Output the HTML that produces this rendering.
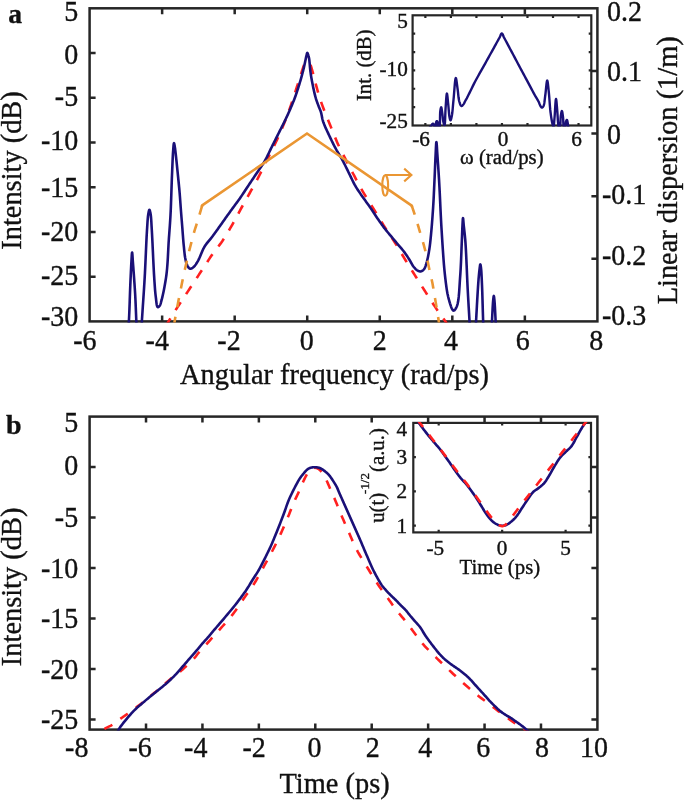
<!DOCTYPE html>
<html><head><meta charset="utf-8"><style>
html,body{margin:0;padding:0;background:#fff;}
svg{display:block;will-change:transform;}
text{font-family:"Liberation Serif",serif;}
</style></head><body>
<svg width="685" height="800" viewBox="0 0 685 800">
<rect width="685" height="800" fill="#fff"/>
<clipPath id="ca"><rect x="88.60" y="7.30" width="509.80" height="315.10"/></clipPath>
<clipPath id="cb"><rect x="88.60" y="415.60" width="509.80" height="315.00"/></clipPath>
<clipPath id="cia"><rect x="411.60" y="14.30" width="180.70" height="112.20"/></clipPath>
<clipPath id="cib"><rect x="412.30" y="421.90" width="179.70" height="111.50"/></clipPath>
<g fill="none" stroke="#262626" stroke-width="2.50">
<rect x="89.60" y="8.30" width="507.80" height="313.10"/>
<path d="M162.14 321.40 V315.40 M162.14 8.30 V14.30 M234.69 321.40 V315.40 M234.69 8.30 V14.30 M307.23 321.40 V315.40 M307.23 8.30 V14.30 M379.77 321.40 V315.40 M379.77 8.30 V14.30 M452.31 321.40 V315.40 M452.31 8.30 V14.30 M524.86 321.40 V315.40 M524.86 8.30 V14.30 M89.60 53.03 H95.60 M89.60 97.76 H95.60 M89.60 142.49 H95.60 M89.60 187.21 H95.60 M89.60 231.94 H95.60 M89.60 276.67 H95.60 M597.40 70.92 H591.40 M597.40 133.54 H591.40 M597.40 196.16 H591.40 M597.40 258.78 H591.40 "/>
</g>
<g clip-path="url(#ca)" fill="none" stroke-width="2.60">
<path d="M165.00 327.50 L165.07 327.38 L165.27 327.03 L165.57 326.51 L165.95 325.85 L166.39 325.10 L166.85 324.29 L167.33 323.48 L167.80 322.70 L168.63 321.33 L169.57 319.78 L170.60 318.10 L171.70 316.33 L172.83 314.50 L174.00 312.64 L175.16 310.79 L176.30 309.00 L177.52 307.10 L178.77 305.18 L180.05 303.24 L181.34 301.29 L182.64 299.33 L183.93 297.38 L185.22 295.43 L186.50 293.50 L187.75 291.60 L189.01 289.70 L190.27 287.79 L191.52 285.89 L192.76 284.00 L194.00 282.13 L195.21 280.30 L196.40 278.50 L197.45 276.91 L198.48 275.36 L199.50 273.83 L200.50 272.32 L201.50 270.82 L202.50 269.32 L203.49 267.82 L204.50 266.30 L205.51 264.77 L206.50 263.23 L207.49 261.70 L208.48 260.16 L209.48 258.62 L210.49 257.08 L211.53 255.54 L212.60 254.00 L213.77 252.39 L214.97 250.80 L216.21 249.22 L217.46 247.63 L218.72 246.02 L219.97 244.39 L221.20 242.72 L222.40 241.00 L223.67 239.09 L224.92 237.13 L226.15 235.13 L227.38 233.10 L228.59 231.05 L229.80 228.97 L231.00 226.89 L232.20 224.80 L233.44 222.61 L234.68 220.37 L235.92 218.09 L237.15 215.81 L238.36 213.54 L239.56 211.30 L240.74 209.11 L241.90 207.00 L242.89 205.22 L243.85 203.50 L244.80 201.82 L245.74 200.16 L246.68 198.52 L247.61 196.87 L248.55 195.20 L249.50 193.50 L250.49 191.72 L251.49 189.95 L252.49 188.17 L253.49 186.38 L254.49 184.57 L255.50 182.75 L256.50 180.89 L257.50 179.00 L258.59 176.90 L259.67 174.75 L260.76 172.57 L261.84 170.36 L262.93 168.14 L264.02 165.92 L265.11 163.70 L266.20 161.50 L267.30 159.31 L268.42 157.10 L269.55 154.90 L270.68 152.69 L271.79 150.50 L272.89 148.31 L273.96 146.14 L275.00 144.00 L275.93 142.03 L276.84 140.10 L277.73 138.19 L278.60 136.28 L279.45 134.37 L280.30 132.44 L281.15 130.49 L282.00 128.50 L282.90 126.35 L283.79 124.19 L284.68 122.00 L285.56 119.79 L286.43 117.56 L287.29 115.30 L288.15 113.01 L289.00 110.70 L289.91 108.16 L290.80 105.56 L291.69 102.91 L292.57 100.25 L293.45 97.57 L294.31 94.91 L295.16 92.28 L296.00 89.70 L296.79 87.27 L297.58 84.80 L298.37 82.33 L299.15 79.89 L299.91 77.50 L300.64 75.21 L301.34 73.03 L302.00 71.00 L302.45 69.64 L302.88 68.35 L303.29 67.11 L303.70 65.91 L304.09 64.76 L304.47 63.65 L304.84 62.56 L305.20 61.50 L305.51 60.60 L305.85 59.62 L306.20 58.62 L306.54 57.66 L306.84 56.81 L307.08 56.12 L307.24 55.67 L307.30 55.50" stroke="#ff2020" stroke-dasharray="9.5 9.69" stroke-dashoffset="18.08"/>
<path d="M307.30 55.50 L307.37 55.70 L307.58 56.25 L307.88 57.07 L308.24 58.08 L308.65 59.21 L309.07 60.37 L309.46 61.49 L309.80 62.50 L310.13 63.51 L310.46 64.53 L310.78 65.56 L311.11 66.60 L311.43 67.66 L311.75 68.75 L312.07 69.86 L312.40 71.00 L312.78 72.40 L313.17 73.85 L313.55 75.33 L313.93 76.85 L314.31 78.39 L314.70 79.94 L315.10 81.48 L315.50 83.00 L315.92 84.55 L316.34 86.12 L316.76 87.69 L317.19 89.26 L317.63 90.83 L318.07 92.40 L318.53 93.95 L319.00 95.50 L319.47 97.00 L319.95 98.48 L320.43 99.93 L320.92 101.39 L321.43 102.86 L321.96 104.36 L322.51 105.90 L323.10 107.50 L323.87 109.53 L324.68 111.64 L325.54 113.80 L326.43 116.00 L327.34 118.24 L328.26 120.50 L329.19 122.75 L330.10 125.00 L331.06 127.38 L332.03 129.82 L333.01 132.28 L334.00 134.75 L335.00 137.20 L336.00 139.61 L337.00 141.95 L338.00 144.20 L338.86 146.06 L339.72 147.86 L340.58 149.60 L341.45 151.31 L342.31 153.00 L343.19 154.70 L344.09 156.43 L345.00 158.20 L346.00 160.13 L347.01 162.09 L348.05 164.06 L349.09 166.05 L350.14 168.04 L351.20 170.04 L352.25 172.02 L353.30 174.00 L354.33 175.95 L355.34 177.89 L356.34 179.82 L357.35 181.74 L358.38 183.69 L359.43 185.65 L360.54 187.65 L361.70 189.70 L363.15 192.16 L364.68 194.70 L366.29 197.29 L367.94 199.92 L369.60 202.55 L371.24 205.15 L372.85 207.71 L374.40 210.20 L375.75 212.40 L377.07 214.58 L378.37 216.72 L379.65 218.85 L380.93 220.95 L382.21 223.04 L383.49 225.12 L384.80 227.20 L386.09 229.21 L387.39 231.18 L388.70 233.15 L390.01 235.10 L391.32 237.05 L392.62 239.01 L393.92 240.99 L395.20 243.00 L396.49 245.09 L397.77 247.19 L399.04 249.32 L400.31 251.45 L401.57 253.59 L402.84 255.74 L404.11 257.87 L405.40 260.00 L406.71 262.13 L408.02 264.26 L409.34 266.38 L410.67 268.51 L412.00 270.63 L413.33 272.76 L414.66 274.88 L416.00 277.00 L417.34 279.13 L418.69 281.27 L420.04 283.40 L421.40 285.54 L422.75 287.67 L424.10 289.79 L425.45 291.90 L426.80 294.00 L428.11 296.04 L429.42 298.09 L430.72 300.13 L432.03 302.16 L433.33 304.17 L434.63 306.16 L435.92 308.10 L437.20 310.00 L438.39 311.71 L439.63 313.45 L440.88 315.17 L442.12 316.87 L443.31 318.49 L444.42 320.03 L445.43 321.44 L446.30 322.70 L446.76 323.40 L447.23 324.13 L447.68 324.85 L448.10 325.52 L448.46 326.11 L448.75 326.58 L448.93 326.89 L449.00 327.00" stroke="#ff2020" stroke-dasharray="9.5 9.69" stroke-dashoffset="9.18"/>
<path d="M127.50 336.00 L127.53 335.77 L127.60 335.14 L127.71 334.15 L127.85 332.87 L128.01 331.36 L128.18 329.68 L128.35 327.90 L128.52 326.07 L128.67 324.25 L128.80 322.50 L128.98 319.47 L129.15 316.06 L129.31 312.34 L129.46 308.41 L129.61 304.35 L129.75 300.24 L129.88 296.17 L130.02 292.22 L130.16 288.46 L130.30 285.00 L130.41 282.43 L130.52 279.88 L130.64 277.37 L130.75 274.92 L130.86 272.52 L130.96 270.21 L131.07 267.99 L131.18 265.87 L131.29 263.87 L131.40 262.00 L131.47 260.80 L131.54 259.53 L131.61 258.25 L131.68 256.99 L131.74 255.80 L131.81 254.73 L131.88 253.82 L131.95 253.12 L132.03 252.66 L132.10 252.50 L132.17 252.65 L132.25 253.09 L132.32 253.77 L132.40 254.66 L132.47 255.70 L132.55 256.87 L132.63 258.13 L132.72 259.43 L132.81 260.73 L132.90 262.00 L133.09 264.51 L133.31 267.37 L133.54 270.53 L133.79 273.91 L134.05 277.44 L134.30 281.06 L134.55 284.69 L134.79 288.27 L135.01 291.73 L135.20 295.00 L135.35 297.89 L135.49 300.78 L135.62 303.68 L135.74 306.55 L135.85 309.40 L135.96 312.18 L136.07 314.90 L136.17 317.54 L136.28 320.08 L136.40 322.50 L136.48 324.25 L136.55 325.97 L136.61 327.64 L136.67 329.27 L136.74 330.85 L136.81 332.39 L136.90 333.87 L137.00 335.30 L137.14 336.68 L137.30 338.00 L137.44 338.98 L137.60 340.03 L137.77 341.11 L137.95 342.16 L138.13 343.17 L138.33 344.08 L138.52 344.86 L138.72 345.47 L138.91 345.86 L139.10 346.00 L139.29 345.86 L139.49 345.47 L139.70 344.86 L139.91 344.09 L140.11 343.17 L140.32 342.17 L140.51 341.11 L140.69 340.03 L140.85 338.98 L141.00 338.00 L141.16 336.70 L141.28 335.36 L141.37 333.99 L141.44 332.56 L141.49 331.08 L141.53 329.53 L141.58 327.91 L141.63 326.20 L141.70 324.40 L141.80 322.50 L142.01 318.95 L142.27 315.00 L142.55 310.73 L142.85 306.21 L143.17 301.49 L143.49 296.65 L143.82 291.75 L144.13 286.87 L144.43 282.06 L144.70 277.40 L144.96 272.60 L145.20 267.59 L145.44 262.48 L145.67 257.32 L145.90 252.20 L146.12 247.21 L146.34 242.41 L146.56 237.89 L146.78 233.73 L147.00 230.00 L147.13 228.01 L147.24 226.09 L147.36 224.25 L147.47 222.49 L147.58 220.82 L147.70 219.24 L147.83 217.77 L147.97 216.40 L148.13 215.14 L148.30 214.00 L148.40 213.43 L148.50 212.85 L148.61 212.27 L148.71 211.71 L148.83 211.20 L148.94 210.74 L149.05 210.36 L149.17 210.06 L149.28 209.87 L149.40 209.80 L149.52 209.87 L149.64 210.06 L149.77 210.35 L149.89 210.74 L150.02 211.20 L150.14 211.71 L150.27 212.27 L150.38 212.84 L150.50 213.43 L150.60 214.00 L150.78 215.14 L150.93 216.40 L151.06 217.76 L151.18 219.24 L151.28 220.82 L151.38 222.49 L151.47 224.25 L151.57 226.09 L151.68 228.01 L151.80 230.00 L152.02 233.81 L152.25 238.20 L152.49 243.02 L152.72 248.14 L152.97 253.42 L153.21 258.72 L153.46 263.90 L153.71 268.84 L153.95 273.38 L154.20 277.40 L154.35 279.74 L154.50 281.97 L154.64 284.11 L154.78 286.17 L154.92 288.14 L155.07 290.04 L155.23 291.87 L155.40 293.63 L155.59 295.34 L155.80 297.00 L155.95 298.23 L156.09 299.51 L156.23 300.82 L156.38 302.11 L156.53 303.34 L156.70 304.47 L156.90 305.44 L157.13 306.24 L157.39 306.80 L157.70 307.10 L157.86 307.14 L158.03 307.13 L158.21 307.08 L158.40 306.99 L158.59 306.87 L158.79 306.72 L158.98 306.56 L159.16 306.38 L159.34 306.19 L159.50 306.00 L159.73 305.69 L159.93 305.35 L160.12 304.96 L160.30 304.55 L160.46 304.09 L160.62 303.59 L160.78 303.06 L160.94 302.48 L161.11 301.86 L161.30 301.20 L161.77 299.46 L162.28 297.38 L162.82 295.03 L163.38 292.44 L163.94 289.68 L164.50 286.79 L165.03 283.82 L165.54 280.84 L166.00 277.88 L166.40 275.00 L166.79 271.69 L167.12 268.25 L167.40 264.70 L167.65 261.10 L167.86 257.46 L168.05 253.83 L168.23 250.24 L168.41 246.71 L168.59 243.29 L168.80 240.00 L168.98 237.36 L169.17 234.83 L169.35 232.38 L169.52 229.98 L169.70 227.60 L169.87 225.22 L170.03 222.80 L170.19 220.31 L170.35 217.72 L170.50 215.00 L170.68 211.34 L170.85 207.45 L171.00 203.39 L171.15 199.23 L171.29 195.00 L171.43 190.78 L171.57 186.61 L171.71 182.55 L171.85 178.66 L172.00 175.00 L172.12 172.19 L172.23 169.37 L172.35 166.57 L172.46 163.82 L172.57 161.15 L172.69 158.58 L172.81 156.16 L172.93 153.90 L173.06 151.84 L173.20 150.00 L173.27 149.08 L173.35 148.15 L173.42 147.22 L173.49 146.32 L173.57 145.49 L173.65 144.74 L173.73 144.11 L173.82 143.63 L173.90 143.31 L174.00 143.20 L174.08 143.27 L174.17 143.48 L174.26 143.80 L174.35 144.21 L174.44 144.69 L174.54 145.23 L174.63 145.80 L174.72 146.38 L174.81 146.96 L174.90 147.50 L175.03 148.32 L175.15 149.19 L175.27 150.10 L175.39 151.06 L175.50 152.06 L175.62 153.10 L175.74 154.16 L175.85 155.25 L175.98 156.37 L176.10 157.50 L176.27 159.05 L176.45 160.69 L176.63 162.39 L176.81 164.15 L176.99 165.94 L177.18 167.77 L177.36 169.60 L177.54 171.42 L177.72 173.23 L177.90 175.00 L178.08 176.75 L178.25 178.50 L178.43 180.25 L178.61 182.00 L178.78 183.75 L178.95 185.50 L179.12 187.25 L179.29 189.00 L179.45 190.75 L179.60 192.50 L179.75 194.25 L179.88 196.00 L180.02 197.75 L180.14 199.50 L180.27 201.25 L180.39 203.00 L180.52 204.75 L180.64 206.50 L180.77 208.25 L180.90 210.00 L181.04 211.75 L181.17 213.50 L181.31 215.25 L181.45 217.00 L181.59 218.75 L181.74 220.50 L181.88 222.25 L182.02 224.00 L182.16 225.75 L182.30 227.50 L182.44 229.26 L182.57 231.03 L182.70 232.81 L182.83 234.60 L182.97 236.37 L183.10 238.14 L183.24 239.90 L183.39 241.63 L183.54 243.33 L183.70 245.00 L183.85 246.49 L183.99 247.98 L184.13 249.47 L184.28 250.95 L184.44 252.41 L184.60 253.83 L184.77 255.22 L184.96 256.54 L185.17 257.81 L185.40 259.00 L185.57 259.82 L185.74 260.63 L185.92 261.41 L186.10 262.17 L186.29 262.90 L186.50 263.59 L186.72 264.26 L186.95 264.88 L187.21 265.46 L187.50 266.00 L187.72 266.37 L187.95 266.73 L188.19 267.09 L188.43 267.43 L188.69 267.74 L188.96 268.02 L189.23 268.27 L189.51 268.47 L189.80 268.61 L190.10 268.70 L190.42 268.72 L190.75 268.68 L191.10 268.59 L191.45 268.45 L191.81 268.27 L192.18 268.06 L192.54 267.82 L192.91 267.56 L193.26 267.28 L193.60 267.00 L194.06 266.57 L194.51 266.09 L194.96 265.56 L195.40 264.99 L195.83 264.37 L196.26 263.71 L196.69 263.02 L197.12 262.30 L197.56 261.56 L198.00 260.80 L198.63 259.63 L199.25 258.33 L199.86 256.93 L200.47 255.47 L201.09 253.96 L201.72 252.43 L202.37 250.91 L203.05 249.44 L203.75 248.02 L204.50 246.70 L205.23 245.55 L205.99 244.45 L206.79 243.39 L207.60 242.35 L208.43 241.33 L209.27 240.32 L210.12 239.32 L210.96 238.30 L211.79 237.26 L212.60 236.20 L213.43 235.08 L214.25 233.96 L215.07 232.83 L215.89 231.68 L216.71 230.54 L217.53 229.39 L218.35 228.24 L219.17 227.09 L219.98 225.94 L220.80 224.80 L221.62 223.65 L222.44 222.50 L223.26 221.34 L224.09 220.17 L224.91 219.01 L225.72 217.86 L226.53 216.71 L227.33 215.59 L228.12 214.48 L228.90 213.40 L229.58 212.46 L230.26 211.52 L230.93 210.60 L231.60 209.68 L232.26 208.78 L232.91 207.89 L233.55 207.02 L234.18 206.16 L234.80 205.32 L235.40 204.50 L235.89 203.84 L236.35 203.21 L236.80 202.61 L237.24 202.02 L237.67 201.43 L238.11 200.84 L238.55 200.23 L239.01 199.60 L239.49 198.92 L240.00 198.20 L240.77 197.09 L241.58 195.89 L242.42 194.63 L243.29 193.31 L244.19 191.95 L245.09 190.57 L246.00 189.18 L246.91 187.80 L247.82 186.43 L248.70 185.10 L249.58 183.78 L250.47 182.46 L251.37 181.12 L252.26 179.79 L253.16 178.46 L254.05 177.14 L254.93 175.82 L255.80 174.53 L256.66 173.25 L257.50 172.00 L258.24 170.91 L258.96 169.86 L259.68 168.83 L260.39 167.81 L261.09 166.80 L261.79 165.79 L262.48 164.76 L263.16 163.71 L263.83 162.62 L264.50 161.50 L265.23 160.20 L265.95 158.86 L266.66 157.48 L267.36 156.07 L268.05 154.65 L268.74 153.22 L269.43 151.78 L270.11 150.34 L270.80 148.91 L271.50 147.50 L272.20 146.10 L272.90 144.70 L273.60 143.30 L274.30 141.90 L275.00 140.50 L275.70 139.10 L276.40 137.70 L277.10 136.30 L277.80 134.90 L278.50 133.50 L279.21 132.09 L279.92 130.68 L280.64 129.26 L281.36 127.84 L282.08 126.42 L282.79 125.01 L283.49 123.61 L284.18 122.22 L284.85 120.85 L285.50 119.50 L286.06 118.31 L286.61 117.14 L287.15 115.99 L287.68 114.84 L288.19 113.71 L288.70 112.58 L289.21 111.44 L289.71 110.31 L290.20 109.16 L290.70 108.00 L291.20 106.82 L291.70 105.64 L292.19 104.46 L292.68 103.28 L293.16 102.09 L293.64 100.90 L294.12 99.69 L294.58 98.48 L295.04 97.25 L295.50 96.00 L295.98 94.65 L296.46 93.26 L296.93 91.86 L297.39 90.44 L297.85 89.02 L298.30 87.59 L298.74 86.17 L299.17 84.76 L299.59 83.37 L300.00 82.00 L300.37 80.76 L300.73 79.52 L301.08 78.29 L301.43 77.06 L301.77 75.84 L302.09 74.64 L302.41 73.45 L302.72 72.28 L303.02 71.13 L303.30 70.00 L303.53 69.04 L303.76 68.09 L303.97 67.15 L304.18 66.22 L304.38 65.31 L304.57 64.41 L304.76 63.53 L304.94 62.66 L305.12 61.82 L305.30 61.00 L305.44 60.34 L305.58 59.67 L305.72 59.01 L305.85 58.36 L305.98 57.73 L306.11 57.12 L306.23 56.53 L306.36 55.98 L306.48 55.47 L306.60 55.00 L306.67 54.73 L306.74 54.44 L306.81 54.16 L306.88 53.88 L306.94 53.62 L307.01 53.39 L307.08 53.19 L307.15 53.04 L307.22 52.94 L307.30 52.90 L307.38 52.93 L307.47 53.04 L307.56 53.20 L307.65 53.40 L307.75 53.65 L307.84 53.91 L307.94 54.19 L308.03 54.47 L308.12 54.75 L308.20 55.00 L308.30 55.30 L308.40 55.60 L308.49 55.91 L308.59 56.22 L308.68 56.55 L308.76 56.89 L308.85 57.25 L308.93 57.64 L309.02 58.05 L309.10 58.50 L309.25 59.46 L309.38 60.56 L309.51 61.79 L309.63 63.10 L309.75 64.48 L309.86 65.89 L309.98 67.30 L310.11 68.69 L310.25 70.04 L310.40 71.30 L310.55 72.38 L310.69 73.44 L310.84 74.47 L311.00 75.48 L311.15 76.49 L311.32 77.51 L311.50 78.53 L311.69 79.59 L311.89 80.67 L312.10 81.80 L312.39 83.27 L312.70 84.83 L313.03 86.46 L313.37 88.12 L313.73 89.80 L314.10 91.47 L314.48 93.10 L314.86 94.66 L315.23 96.14 L315.60 97.50 L315.86 98.41 L316.13 99.28 L316.40 100.10 L316.66 100.90 L316.93 101.68 L317.20 102.43 L317.48 103.18 L317.75 103.91 L318.02 104.65 L318.30 105.40 L318.56 106.08 L318.82 106.74 L319.09 107.38 L319.36 108.02 L319.63 108.65 L319.90 109.29 L320.17 109.94 L320.42 110.60 L320.67 111.29 L320.90 112.00 L321.15 112.87 L321.36 113.75 L321.55 114.66 L321.73 115.59 L321.91 116.54 L322.09 117.50 L322.29 118.48 L322.52 119.47 L322.79 120.48 L323.10 121.50 L323.56 122.81 L324.07 124.15 L324.63 125.53 L325.23 126.94 L325.87 128.36 L326.52 129.80 L327.19 131.24 L327.87 132.67 L328.54 134.10 L329.20 135.50 L329.87 136.92 L330.55 138.35 L331.24 139.78 L331.94 141.22 L332.65 142.65 L333.36 144.07 L334.07 145.47 L334.79 146.85 L335.50 148.19 L336.20 149.50 L336.82 150.62 L337.45 151.70 L338.07 152.75 L338.70 153.78 L339.33 154.80 L339.95 155.81 L340.57 156.83 L341.19 157.86 L341.80 158.92 L342.40 160.00 L343.03 161.17 L343.64 162.35 L344.25 163.55 L344.85 164.76 L345.45 165.98 L346.05 167.21 L346.65 168.44 L347.26 169.69 L347.88 170.94 L348.50 172.20 L349.18 173.57 L349.86 174.98 L350.54 176.41 L351.23 177.85 L351.92 179.29 L352.62 180.73 L353.32 182.15 L354.04 183.54 L354.76 184.89 L355.50 186.20 L356.17 187.33 L356.85 188.43 L357.54 189.50 L358.23 190.55 L358.93 191.58 L359.64 192.60 L360.35 193.62 L361.06 194.64 L361.78 195.66 L362.50 196.70 L363.23 197.75 L363.97 198.79 L364.72 199.83 L365.46 200.87 L366.22 201.90 L366.97 202.94 L367.73 203.99 L368.49 205.05 L369.24 206.12 L370.00 207.20 L370.81 208.38 L371.62 209.59 L372.44 210.81 L373.26 212.05 L374.08 213.30 L374.90 214.54 L375.71 215.77 L376.52 216.98 L377.32 218.16 L378.10 219.30 L378.78 220.28 L379.45 221.24 L380.11 222.19 L380.76 223.12 L381.42 224.04 L382.07 224.95 L382.72 225.85 L383.37 226.74 L384.03 227.62 L384.70 228.50 L385.34 229.32 L385.98 230.13 L386.63 230.93 L387.28 231.72 L387.93 232.50 L388.58 233.28 L389.24 234.06 L389.89 234.83 L390.55 235.61 L391.20 236.40 L391.86 237.19 L392.52 237.98 L393.18 238.77 L393.84 239.56 L394.50 240.35 L395.16 241.14 L395.82 241.93 L396.48 242.72 L397.14 243.51 L397.80 244.30 L398.46 245.08 L399.12 245.86 L399.79 246.63 L400.45 247.41 L401.12 248.18 L401.78 248.96 L402.43 249.73 L403.07 250.52 L403.69 251.31 L404.30 252.10 L404.87 252.88 L405.44 253.67 L405.99 254.46 L406.54 255.26 L407.07 256.06 L407.60 256.87 L408.11 257.66 L408.62 258.45 L409.12 259.23 L409.60 260.00 L410.02 260.69 L410.42 261.38 L410.80 262.08 L411.18 262.78 L411.55 263.47 L411.92 264.14 L412.29 264.80 L412.68 265.43 L413.08 266.03 L413.50 266.60 L413.87 267.07 L414.26 267.53 L414.65 267.98 L415.05 268.42 L415.45 268.84 L415.86 269.24 L416.27 269.61 L416.68 269.94 L417.09 270.24 L417.50 270.50 L417.82 270.68 L418.14 270.84 L418.46 270.99 L418.78 271.13 L419.10 271.24 L419.43 271.33 L419.75 271.39 L420.07 271.43 L420.39 271.43 L420.70 271.40 L421.04 271.33 L421.39 271.21 L421.74 271.06 L422.09 270.87 L422.44 270.65 L422.77 270.41 L423.10 270.14 L423.42 269.84 L423.72 269.53 L424.00 269.20 L424.35 268.72 L424.66 268.19 L424.95 267.61 L425.22 266.98 L425.46 266.32 L425.70 265.62 L425.92 264.89 L426.15 264.15 L426.37 263.38 L426.60 262.60 L426.92 261.49 L427.22 260.31 L427.51 259.07 L427.80 257.78 L428.07 256.46 L428.34 255.09 L428.59 253.71 L428.84 252.31 L429.07 250.90 L429.30 249.50 L429.54 247.91 L429.76 246.31 L429.97 244.69 L430.16 243.05 L430.34 241.38 L430.52 239.68 L430.69 237.95 L430.86 236.18 L431.03 234.36 L431.20 232.50 L431.42 230.10 L431.64 227.61 L431.85 225.03 L432.06 222.39 L432.27 219.71 L432.47 216.99 L432.66 214.27 L432.85 211.55 L433.03 208.85 L433.20 206.20 L433.36 203.58 L433.51 200.95 L433.65 198.32 L433.78 195.69 L433.90 193.06 L434.03 190.43 L434.14 187.81 L434.26 185.20 L434.38 182.60 L434.50 180.00 L434.62 177.44 L434.73 174.83 L434.84 172.20 L434.95 169.56 L435.06 166.95 L435.17 164.38 L435.27 161.88 L435.38 159.47 L435.49 157.17 L435.60 155.00 L435.68 153.42 L435.76 151.74 L435.83 150.01 L435.91 148.30 L435.99 146.67 L436.07 145.20 L436.15 143.94 L436.23 142.96 L436.31 142.33 L436.40 142.10 L436.49 142.32 L436.58 142.95 L436.68 143.92 L436.78 145.17 L436.88 146.63 L436.98 148.25 L437.08 149.96 L437.18 151.70 L437.29 153.40 L437.40 155.00 L437.56 157.30 L437.73 159.72 L437.91 162.26 L438.09 164.90 L438.27 167.64 L438.46 170.47 L438.65 173.38 L438.83 176.36 L439.02 179.40 L439.20 182.50 L439.43 186.73 L439.66 191.17 L439.88 195.80 L440.10 200.57 L440.32 205.45 L440.55 210.39 L440.79 215.35 L441.04 220.30 L441.31 225.20 L441.60 230.00 L441.90 234.83 L442.21 239.79 L442.53 244.82 L442.86 249.87 L443.21 254.88 L443.57 259.79 L443.94 264.56 L444.34 269.12 L444.76 273.42 L445.20 277.40 L445.50 279.92 L445.79 282.34 L446.09 284.66 L446.39 286.90 L446.70 289.06 L447.03 291.14 L447.39 293.15 L447.79 295.09 L448.22 296.97 L448.70 298.80 L449.10 300.24 L449.54 301.77 L449.99 303.34 L450.47 304.88 L450.96 306.34 L451.46 307.68 L451.97 308.83 L452.48 309.73 L452.99 310.34 L453.50 310.60 L453.85 310.57 L454.21 310.40 L454.58 310.11 L454.95 309.70 L455.32 309.21 L455.68 308.64 L456.04 308.01 L456.38 307.33 L456.70 306.62 L457.00 305.90 L457.58 304.07 L458.05 301.85 L458.45 299.28 L458.77 296.45 L459.04 293.41 L459.27 290.23 L459.48 286.97 L459.68 283.71 L459.88 280.49 L460.10 277.40 L460.35 273.94 L460.57 270.33 L460.77 266.60 L460.95 262.82 L461.12 259.03 L461.27 255.28 L461.41 251.64 L461.54 248.14 L461.67 244.84 L461.80 241.80 L461.88 239.83 L461.96 237.92 L462.03 236.07 L462.10 234.28 L462.17 232.55 L462.23 230.89 L462.29 229.30 L462.36 227.79 L462.43 226.35 L462.50 225.00 L462.55 224.13 L462.59 223.21 L462.64 222.27 L462.69 221.36 L462.74 220.50 L462.78 219.72 L462.83 219.06 L462.89 218.55 L462.94 218.22 L463.00 218.10 L463.06 218.22 L463.12 218.55 L463.19 219.06 L463.25 219.72 L463.32 220.50 L463.39 221.36 L463.46 222.27 L463.54 223.21 L463.62 224.13 L463.70 225.00 L463.84 226.34 L464.00 227.75 L464.16 229.23 L464.34 230.78 L464.52 232.40 L464.70 234.11 L464.88 235.90 L465.06 237.77 L465.24 239.74 L465.40 241.80 L465.66 245.61 L465.90 249.89 L466.14 254.54 L466.37 259.47 L466.60 264.57 L466.82 269.75 L467.03 274.91 L467.25 279.96 L467.47 284.79 L467.70 289.30 L467.89 292.92 L468.09 296.52 L468.29 300.09 L468.49 303.61 L468.69 307.05 L468.89 310.40 L469.08 313.65 L469.26 316.75 L469.44 319.71 L469.60 322.50 L469.69 324.31 L469.75 326.06 L469.80 327.75 L469.84 329.38 L469.89 330.95 L469.95 332.46 L470.03 333.92 L470.14 335.33 L470.29 336.69 L470.50 338.00 L470.69 338.99 L470.90 340.04 L471.14 341.12 L471.40 342.18 L471.67 343.18 L471.95 344.10 L472.22 344.87 L472.49 345.48 L472.75 345.86 L473.00 346.00 L473.24 345.86 L473.48 345.46 L473.72 344.86 L473.97 344.08 L474.20 343.17 L474.43 342.17 L474.65 341.11 L474.85 340.03 L475.04 338.99 L475.20 338.00 L475.38 336.70 L475.51 335.36 L475.61 333.98 L475.68 332.55 L475.73 331.06 L475.76 329.50 L475.80 327.88 L475.85 326.17 L475.91 324.38 L476.00 322.50 L476.19 318.98 L476.41 314.93 L476.65 310.47 L476.91 305.76 L477.18 300.93 L477.45 296.13 L477.73 291.50 L478.00 287.17 L478.26 283.29 L478.50 280.00 L478.62 278.47 L478.75 277.02 L478.87 275.64 L478.99 274.33 L479.11 273.10 L479.23 271.94 L479.35 270.85 L479.47 269.83 L479.59 268.88 L479.70 268.00 L479.76 267.52 L479.82 267.03 L479.88 266.54 L479.94 266.06 L480.00 265.62 L480.05 265.22 L480.11 264.88 L480.17 264.63 L480.24 264.46 L480.30 264.40 L480.37 264.46 L480.44 264.61 L480.51 264.86 L480.58 265.19 L480.65 265.58 L480.73 266.02 L480.80 266.49 L480.87 266.99 L480.94 267.50 L481.00 268.00 L481.13 269.16 L481.25 270.49 L481.36 271.96 L481.46 273.57 L481.55 275.30 L481.64 277.11 L481.73 279.01 L481.82 280.97 L481.91 282.97 L482.00 285.00 L482.13 288.23 L482.26 291.82 L482.38 295.69 L482.50 299.73 L482.62 303.85 L482.73 307.97 L482.85 311.99 L482.96 315.81 L483.08 319.34 L483.20 322.50 L483.26 324.35 L483.29 326.12 L483.30 327.82 L483.31 329.45 L483.32 331.02 L483.36 332.52 L483.43 333.97 L483.56 335.36 L483.74 336.70 L484.00 338.00 L484.25 339.00 L484.54 340.05 L484.87 341.13 L485.22 342.19 L485.59 343.19 L485.98 344.10 L486.37 344.87 L486.76 345.47 L487.14 345.86 L487.50 346.00 L487.86 345.86 L488.24 345.47 L488.63 344.87 L489.02 344.10 L489.40 343.19 L489.77 342.19 L490.13 341.13 L490.45 340.05 L490.75 339.00 L491.00 338.00 L491.26 336.69 L491.45 335.30 L491.58 333.85 L491.66 332.34 L491.71 330.78 L491.73 329.17 L491.75 327.54 L491.78 325.87 L491.82 324.19 L491.90 322.50 L492.02 320.34 L492.14 317.97 L492.27 315.48 L492.40 312.92 L492.53 310.36 L492.66 307.88 L492.79 305.53 L492.93 303.39 L493.06 301.53 L493.20 300.00 L493.26 299.43 L493.32 298.86 L493.38 298.31 L493.44 297.78 L493.50 297.29 L493.56 296.87 L493.62 296.51 L493.68 296.24 L493.74 296.06 L493.80 296.00 L493.86 296.06 L493.92 296.24 L493.98 296.51 L494.04 296.87 L494.10 297.29 L494.16 297.78 L494.22 298.31 L494.28 298.86 L494.34 299.43 L494.40 300.00 L494.54 301.53 L494.68 303.39 L494.81 305.53 L494.95 307.88 L495.08 310.36 L495.21 312.92 L495.34 315.48 L495.47 317.97 L495.59 320.34 L495.70 322.50 L495.80 324.31 L495.90 326.28 L496.01 328.34 L496.11 330.39 L496.22 332.37 L496.31 334.17 L496.39 335.72 L496.45 336.93 L496.49 337.72 L496.50 338.00" stroke="#1a1078" stroke-linejoin="round"/>
<path d="M201.78 206.84 L202.20 205.40 L307.00 133.50 L411.70 205.60 L412.18 207.03" stroke="#ea9633"/>
<path d="M202.20 205.40 L202.12 205.68 L201.90 206.45 L201.57 207.59 L201.16 209.00 L200.71 210.55 L200.24 212.14 L199.80 213.66 L199.40 215.00 L199.03 216.22 L198.66 217.44 L198.29 218.67 L197.91 219.89 L197.53 221.12 L197.15 222.35 L196.78 223.57 L196.40 224.80 L196.02 226.02 L195.64 227.25 L195.25 228.47 L194.87 229.70 L194.49 230.92 L194.12 232.15 L193.75 233.37 L193.40 234.60 L193.07 235.81 L192.74 237.02 L192.43 238.24 L192.12 239.45 L191.82 240.66 L191.51 241.87 L191.21 243.09 L190.90 244.30 L190.59 245.51 L190.27 246.72 L189.95 247.93 L189.63 249.14 L189.32 250.36 L189.00 251.57 L188.70 252.78 L188.40 254.00 L188.11 255.23 L187.83 256.46 L187.55 257.71 L187.27 258.95 L187.00 260.19 L186.73 261.41 L186.47 262.62 L186.20 263.80 L185.96 264.85 L185.72 265.85 L185.49 266.84 L185.26 267.82 L185.03 268.81 L184.79 269.82 L184.55 270.88 L184.30 272.00 L183.97 273.53 L183.63 275.14 L183.28 276.82 L182.92 278.54 L182.56 280.29 L182.20 282.05 L181.85 283.79 L181.50 285.50 L181.16 287.19 L180.81 288.88 L180.46 290.58 L180.12 292.28 L179.78 293.97 L179.44 295.64 L179.12 297.28 L178.80 298.90 L178.52 300.34 L178.25 301.75 L177.98 303.14 L177.72 304.52 L177.47 305.89 L177.21 307.25 L176.96 308.62 L176.70 310.00 L176.44 311.40 L176.17 312.83 L175.89 314.27 L175.62 315.71 L175.36 317.12 L175.11 318.48 L174.89 319.78 L174.70 321.00 L174.57 321.92 L174.45 322.91 L174.33 323.91 L174.22 324.86 L174.13 325.71 L174.06 326.38 L174.02 326.84 L174.00 327.00" stroke="#ea9633" stroke-dasharray="9.5 9.6"/>
<path d="M411.70 205.60 L411.79 205.87 L412.05 206.61 L412.42 207.70 L412.88 209.05 L413.39 210.54 L413.90 212.07 L414.38 213.52 L414.80 214.80 L415.16 215.95 L415.52 217.11 L415.88 218.26 L416.23 219.42 L416.58 220.57 L416.92 221.72 L417.26 222.87 L417.60 224.00 L417.92 225.08 L418.24 226.14 L418.55 227.20 L418.85 228.26 L419.16 229.31 L419.47 230.37 L419.78 231.43 L420.10 232.50 L420.43 233.61 L420.77 234.73 L421.11 235.85 L421.46 236.97 L421.80 238.10 L422.14 239.23 L422.47 240.36 L422.80 241.50 L423.13 242.65 L423.45 243.81 L423.77 244.97 L424.09 246.14 L424.40 247.30 L424.71 248.47 L425.01 249.64 L425.30 250.80 L425.58 251.95 L425.86 253.10 L426.12 254.25 L426.39 255.40 L426.64 256.55 L426.90 257.70 L427.15 258.85 L427.40 260.00 L427.65 261.16 L427.89 262.32 L428.13 263.50 L428.36 264.67 L428.60 265.83 L428.83 266.98 L429.06 268.10 L429.30 269.20 L429.51 270.15 L429.73 271.09 L429.95 272.00 L430.16 272.91 L430.38 273.81 L430.59 274.70 L430.80 275.60 L431.00 276.50 L431.19 277.38 L431.38 278.23 L431.57 279.07 L431.75 279.91 L431.93 280.77 L432.12 281.67 L432.31 282.60 L432.50 283.60 L432.77 285.07 L433.06 286.66 L433.34 288.32 L433.64 290.05 L433.93 291.80 L434.22 293.56 L434.51 295.31 L434.80 297.00 L435.08 298.64 L435.36 300.27 L435.64 301.90 L435.92 303.52 L436.19 305.14 L436.46 306.76 L436.73 308.38 L437.00 310.00 L437.27 311.64 L437.54 313.34 L437.82 315.07 L438.09 316.78 L438.35 318.43 L438.59 320.00 L438.81 321.43 L439.00 322.70 L439.10 323.40 L439.21 324.14 L439.31 324.86 L439.40 325.53 L439.48 326.12 L439.54 326.58 L439.59 326.89 L439.60 327.00" stroke="#ea9633" stroke-dasharray="9.5 9.6"/>
</g>
<g fill="none" stroke="#ea9633" stroke-width="2.1">
<ellipse cx="385.2" cy="185.5" rx="2.9" ry="10.2"/>
<path d="M384.8 175.0 L411.4 175.0 M404.2 168.6 L411.4 175.0 L404.2 181.4"/>
</g>
<rect x="412.60" y="15.30" width="178.70" height="110.20" fill="#fff"/>
<g fill="none" stroke="#262626" stroke-width="2.2">
<rect x="412.60" y="15.30" width="178.70" height="110.20"/>
<path d="M425.36 125.50 V122.90 M425.36 15.30 V17.90 M450.89 125.50 V122.90 M450.89 15.30 V17.90 M476.42 125.50 V122.90 M476.42 15.30 V17.90 M501.95 125.50 V122.90 M501.95 15.30 V17.90 M527.48 125.50 V122.90 M527.48 15.30 V17.90 M553.01 125.50 V122.90 M553.01 15.30 V17.90 M578.54 125.50 V122.90 M578.54 15.30 V17.90 M412.60 33.67 H415.20 M591.30 33.67 H588.70 M412.60 52.03 H415.20 M591.30 52.03 H588.70 M412.60 70.40 H415.20 M591.30 70.40 H588.70 M412.60 88.77 H415.20 M591.30 88.77 H588.70 M412.60 107.13 H415.20 M591.30 107.13 H588.70 "/>
</g>
<g clip-path="url(#cia)" fill="none" stroke-width="2.40">
<path d="M429.00 128.00 L429.06 127.94 L429.23 127.78 L429.49 127.55 L429.79 127.25 L430.12 126.93 L430.45 126.60 L430.75 126.28 L431.00 126.00 L431.17 125.77 L431.34 125.52 L431.49 125.27 L431.63 125.02 L431.77 124.79 L431.91 124.56 L432.05 124.37 L432.20 124.20 L432.30 124.10 L432.40 124.01 L432.50 123.92 L432.60 123.84 L432.70 123.78 L432.80 123.73 L432.90 123.70 L433.00 123.70 L433.10 123.73 L433.21 123.79 L433.31 123.87 L433.41 123.97 L433.51 124.09 L433.61 124.22 L433.71 124.36 L433.80 124.50 L433.94 124.76 L434.06 125.09 L434.17 125.47 L434.29 125.86 L434.40 126.24 L434.52 126.57 L434.65 126.84 L434.80 127.00 L434.88 127.05 L434.97 127.08 L435.06 127.11 L435.16 127.12 L435.25 127.11 L435.34 127.09 L435.42 127.05 L435.50 127.00 L435.66 126.69 L435.77 126.16 L435.84 125.47 L435.89 124.69 L435.94 123.89 L435.99 123.12 L436.07 122.47 L436.20 122.00 L436.28 121.83 L436.36 121.66 L436.45 121.51 L436.54 121.37 L436.63 121.25 L436.73 121.17 L436.82 121.11 L436.90 121.10 L436.99 121.14 L437.09 121.24 L437.18 121.39 L437.27 121.57 L437.35 121.79 L437.44 122.02 L437.52 122.26 L437.60 122.50 L437.72 123.02 L437.82 123.69 L437.90 124.46 L437.98 125.25 L438.07 126.01 L438.17 126.68 L438.31 127.20 L438.50 127.50 L438.59 127.56 L438.69 127.61 L438.79 127.64 L438.90 127.65 L439.00 127.65 L439.11 127.62 L439.21 127.57 L439.30 127.50 L439.62 126.65 L439.83 125.00 L439.94 122.77 L440.00 120.20 L440.03 117.51 L440.07 114.92 L440.15 112.68 L440.30 111.00 L440.40 110.36 L440.51 109.71 L440.62 109.09 L440.74 108.51 L440.86 108.02 L440.98 107.64 L441.09 107.39 L441.20 107.30 L441.32 107.43 L441.43 107.77 L441.54 108.29 L441.66 108.95 L441.77 109.69 L441.88 110.47 L441.99 111.26 L442.10 112.00 L442.27 113.16 L442.43 114.50 L442.59 115.95 L442.75 117.45 L442.91 118.92 L443.09 120.29 L443.29 121.51 L443.50 122.50 L443.62 122.94 L443.74 123.38 L443.87 123.81 L444.01 124.20 L444.14 124.53 L444.27 124.79 L444.39 124.95 L444.50 125.00 L444.73 124.46 L444.91 123.06 L445.05 121.01 L445.16 118.50 L445.25 115.74 L445.35 112.94 L445.46 110.29 L445.60 108.00 L445.75 105.93 L445.90 103.61 L446.06 101.20 L446.22 98.87 L446.38 96.77 L446.55 95.06 L446.72 93.92 L446.90 93.50 L447.05 93.80 L447.22 94.62 L447.38 95.85 L447.55 97.36 L447.71 99.05 L447.88 100.80 L448.04 102.49 L448.20 104.00 L448.36 105.62 L448.52 107.36 L448.66 109.15 L448.81 110.96 L448.96 112.70 L449.12 114.33 L449.30 115.78 L449.50 117.00 L449.61 117.57 L449.73 118.14 L449.85 118.70 L449.98 119.21 L450.11 119.65 L450.24 119.99 L450.37 120.22 L450.50 120.30 L450.66 120.19 L450.82 119.90 L450.99 119.44 L451.16 118.87 L451.33 118.20 L451.49 117.48 L451.65 116.73 L451.80 116.00 L452.06 114.51 L452.29 112.78 L452.50 110.87 L452.70 108.80 L452.89 106.64 L453.08 104.42 L453.28 102.19 L453.50 100.00 L453.77 97.12 L454.05 93.72 L454.33 90.08 L454.61 86.48 L454.90 83.19 L455.20 80.50 L455.50 78.68 L455.80 78.00 L456.02 78.31 L456.24 79.18 L456.47 80.47 L456.70 82.07 L456.93 83.85 L457.16 85.68 L457.38 87.44 L457.60 89.00 L457.81 90.57 L457.99 92.22 L458.16 93.91 L458.34 95.61 L458.52 97.26 L458.74 98.82 L458.99 100.25 L459.30 101.50 L459.52 102.24 L459.75 102.99 L460.00 103.72 L460.25 104.40 L460.52 105.00 L460.80 105.49 L461.10 105.83 L461.40 106.00 L461.62 106.00 L461.86 105.92 L462.10 105.77 L462.34 105.56 L462.59 105.32 L462.83 105.05 L463.07 104.77 L463.30 104.50 L463.60 104.10 L463.89 103.64 L464.18 103.13 L464.45 102.59 L464.72 102.03 L464.99 101.49 L465.25 100.97 L465.50 100.50 L465.69 100.16 L465.87 99.86 L466.04 99.58 L466.20 99.31 L466.37 99.02 L466.56 98.70 L466.77 98.33 L467.00 97.90 L467.70 96.55 L468.55 94.84 L469.51 92.87 L470.56 90.71 L471.67 88.43 L472.80 86.14 L473.92 83.90 L475.00 81.80 L476.08 79.77 L477.19 77.74 L478.31 75.71 L479.44 73.69 L480.59 71.67 L481.73 69.65 L482.87 67.62 L484.00 65.60 L485.14 63.56 L486.28 61.49 L487.44 59.41 L488.59 57.34 L489.73 55.29 L490.85 53.27 L491.95 51.30 L493.00 49.40 L493.89 47.80 L494.78 46.18 L495.66 44.58 L496.52 43.01 L497.35 41.51 L498.13 40.09 L498.85 38.78 L499.50 37.60 L499.84 36.92 L500.16 36.20 L500.45 35.50 L500.72 34.84 L500.99 34.27 L501.25 33.81 L501.52 33.51 L501.80 33.40 L502.08 33.51 L502.35 33.81 L502.62 34.27 L502.89 34.85 L503.16 35.51 L503.45 36.21 L503.76 36.92 L504.10 37.60 L504.70 38.72 L505.36 39.95 L506.06 41.27 L506.80 42.67 L507.58 44.13 L508.37 45.64 L509.18 47.17 L510.00 48.70 L511.03 50.64 L512.12 52.68 L513.24 54.78 L514.38 56.93 L515.54 59.11 L516.70 61.30 L517.86 63.47 L519.00 65.60 L520.13 67.72 L521.28 69.85 L522.42 72.00 L523.57 74.13 L524.71 76.26 L525.83 78.35 L526.93 80.40 L528.00 82.40 L528.93 84.15 L529.86 85.91 L530.79 87.66 L531.70 89.37 L532.58 91.04 L533.43 92.62 L534.24 94.12 L535.00 95.50 L535.50 96.37 L535.98 97.19 L536.44 97.96 L536.89 98.69 L537.32 99.41 L537.74 100.11 L538.13 100.80 L538.50 101.50 L538.79 102.10 L539.06 102.72 L539.31 103.33 L539.54 103.94 L539.78 104.52 L540.01 105.06 L540.25 105.56 L540.50 106.00 L540.67 106.27 L540.84 106.55 L541.01 106.82 L541.19 107.06 L541.36 107.27 L541.54 107.44 L541.72 107.56 L541.90 107.60 L542.10 107.57 L542.30 107.48 L542.51 107.33 L542.72 107.14 L542.93 106.90 L543.13 106.62 L543.32 106.32 L543.50 106.00 L543.84 105.13 L544.12 104.01 L544.36 102.70 L544.56 101.24 L544.74 99.69 L544.92 98.10 L545.10 96.52 L545.30 95.00 L545.55 93.09 L545.79 90.84 L546.03 88.44 L546.27 86.07 L546.50 83.90 L546.74 82.13 L546.97 80.94 L547.20 80.50 L547.41 80.81 L547.61 81.68 L547.82 82.99 L548.02 84.61 L548.22 86.44 L548.42 88.36 L548.61 90.25 L548.80 92.00 L549.03 94.27 L549.23 96.73 L549.43 99.32 L549.62 101.98 L549.81 104.63 L550.02 107.23 L550.24 109.71 L550.50 112.00 L550.72 113.71 L550.95 115.43 L551.20 117.13 L551.45 118.76 L551.71 120.30 L551.97 121.71 L552.24 122.96 L552.50 124.00 L552.63 124.44 L552.75 124.89 L552.89 125.31 L553.02 125.70 L553.15 126.03 L553.27 126.29 L553.39 126.45 L553.50 126.50 L553.67 126.26 L553.82 125.62 L553.95 124.68 L554.06 123.50 L554.17 122.17 L554.27 120.75 L554.38 119.34 L554.50 118.00 L554.69 115.73 L554.87 112.89 L555.06 109.76 L555.24 106.60 L555.43 103.68 L555.62 101.26 L555.81 99.61 L556.00 99.00 L556.15 99.31 L556.30 100.17 L556.46 101.45 L556.62 103.04 L556.77 104.81 L556.92 106.64 L557.06 108.41 L557.20 110.00 L557.34 111.74 L557.47 113.62 L557.59 115.58 L557.70 117.54 L557.81 119.43 L557.93 121.19 L558.06 122.73 L558.20 124.00 L558.26 124.51 L558.31 125.00 L558.35 125.46 L558.40 125.88 L558.46 126.25 L558.55 126.57 L558.65 126.82 L558.80 127.00 L558.90 127.07 L559.02 127.12 L559.15 127.16 L559.29 127.17 L559.43 127.17 L559.56 127.14 L559.69 127.08 L559.80 127.00 L560.09 126.40 L560.28 125.34 L560.40 123.92 L560.48 122.29 L560.53 120.55 L560.58 118.84 L560.66 117.28 L560.80 116.00 L560.92 115.21 L561.05 114.37 L561.19 113.54 L561.33 112.75 L561.48 112.05 L561.62 111.50 L561.76 111.13 L561.90 111.00 L562.04 111.17 L562.19 111.62 L562.33 112.31 L562.47 113.15 L562.61 114.11 L562.75 115.11 L562.88 116.09 L563.00 117.00 L563.12 118.23 L563.21 119.67 L563.26 121.23 L563.32 122.79 L563.40 124.25 L563.53 125.51 L563.72 126.46 L564.00 127.00 L564.11 127.08 L564.23 127.14 L564.37 127.17 L564.50 127.18 L564.64 127.17 L564.77 127.13 L564.89 127.08 L565.00 127.00 L565.21 126.66 L565.37 126.09 L565.48 125.35 L565.57 124.52 L565.66 123.65 L565.74 122.81 L565.85 122.08 L566.00 121.50 L566.10 121.22 L566.21 120.94 L566.33 120.67 L566.45 120.42 L566.57 120.20 L566.69 120.03 L566.80 119.93 L566.90 119.90 L567.02 120.00 L567.13 120.24 L567.24 120.59 L567.34 121.03 L567.43 121.52 L567.52 122.03 L567.61 122.53 L567.70 123.00 L567.82 123.63 L567.95 124.40 L568.09 125.22 L568.21 126.05 L568.33 126.80 L568.42 127.42 L568.48 127.84 L568.50 128.00" stroke="#1a1078" stroke-linejoin="round"/>
</g>
<g fill="none" stroke="#262626" stroke-width="2.50">
<rect x="89.60" y="416.60" width="507.80" height="313.00"/>
<path d="M146.02 729.60 V723.60 M146.02 416.60 V422.60 M202.44 729.60 V723.60 M202.44 416.60 V422.60 M258.87 729.60 V723.60 M258.87 416.60 V422.60 M315.29 729.60 V723.60 M315.29 416.60 V422.60 M371.71 729.60 V723.60 M371.71 416.60 V422.60 M428.13 729.60 V723.60 M428.13 416.60 V422.60 M484.56 729.60 V723.60 M484.56 416.60 V422.60 M540.98 729.60 V723.60 M540.98 416.60 V422.60 M89.60 467.08 H95.60 M597.40 467.08 H591.40 M89.60 517.57 H95.60 M597.40 517.57 H591.40 M89.60 568.05 H95.60 M597.40 568.05 H591.40 M89.60 618.54 H95.60 M597.40 618.54 H591.40 M89.60 669.02 H95.60 M597.40 669.02 H591.40 M89.60 719.50 H95.60 M597.40 719.50 H591.40 "/>
</g>
<g clip-path="url(#cb)" fill="none" stroke-width="2.60">
<path d="M99.00 733.00 L99.15 732.88 L99.56 732.56 L100.17 732.07 L100.94 731.48 L101.80 730.83 L102.70 730.17 L103.59 729.54 L104.40 729.00 L105.31 728.45 L106.28 727.93 L107.28 727.42 L108.31 726.91 L109.34 726.39 L110.38 725.86 L111.40 725.30 L112.40 724.70 L113.42 724.03 L114.43 723.31 L115.44 722.57 L116.44 721.81 L117.44 721.04 L118.43 720.27 L119.42 719.52 L120.40 718.80 L121.32 718.14 L122.23 717.51 L123.13 716.88 L124.03 716.27 L124.93 715.64 L125.84 715.01 L126.76 714.37 L127.70 713.70 L128.78 712.92 L129.89 712.11 L131.03 711.27 L132.17 710.43 L133.30 709.59 L134.41 708.76 L135.48 707.96 L136.50 707.20 L137.28 706.62 L138.01 706.07 L138.72 705.55 L139.41 705.03 L140.10 704.51 L140.80 703.97 L141.53 703.40 L142.30 702.80 L143.32 701.98 L144.40 701.10 L145.51 700.17 L146.64 699.22 L147.78 698.26 L148.91 697.31 L150.03 696.39 L151.10 695.50 L152.03 694.74 L152.93 694.02 L153.82 693.32 L154.69 692.62 L155.58 691.91 L156.48 691.19 L157.42 690.42 L158.40 689.60 L159.73 688.46 L161.13 687.22 L162.58 685.92 L164.07 684.59 L165.57 683.24 L167.07 681.91 L168.55 680.62 L170.00 679.40 L171.32 678.33 L172.65 677.30 L173.98 676.28 L175.30 675.29 L176.60 674.31 L177.88 673.34 L179.11 672.37 L180.30 671.40 L181.29 670.56 L182.24 669.74 L183.16 668.92 L184.06 668.11 L184.94 667.30 L185.82 666.48 L186.71 665.65 L187.60 664.80 L188.55 663.90 L189.53 662.96 L190.52 662.00 L191.50 661.04 L192.45 660.09 L193.35 659.17 L194.17 658.30 L194.90 657.50 L195.30 657.03 L195.64 656.60 L195.94 656.20 L196.22 655.82 L196.50 655.42 L196.81 655.00 L197.17 654.53 L197.60 654.00 L198.67 652.74 L199.97 651.28 L201.43 649.65 L203.01 647.91 L204.66 646.11 L206.33 644.29 L207.96 642.50 L209.50 640.80 L210.98 639.16 L212.46 637.53 L213.94 635.91 L215.41 634.28 L216.89 632.65 L218.36 631.01 L219.83 629.36 L221.30 627.70 L222.79 626.01 L224.29 624.31 L225.80 622.62 L227.30 620.91 L228.78 619.19 L230.25 617.45 L231.69 615.69 L233.10 613.90 L234.48 612.07 L235.82 610.22 L237.13 608.35 L238.42 606.45 L239.70 604.55 L240.99 602.63 L242.28 600.72 L243.60 598.80 L244.98 596.83 L246.39 594.85 L247.82 592.87 L249.24 590.88 L250.65 588.88 L252.04 586.87 L253.39 584.84 L254.70 582.80 L255.94 580.76 L257.15 578.70 L258.33 576.63 L259.48 574.54 L260.61 572.45 L261.74 570.36 L262.87 568.27 L264.00 566.20 L265.12 564.17 L266.24 562.15 L267.36 560.14 L268.46 558.13 L269.56 556.11 L270.66 554.08 L271.73 552.05 L272.80 550.00 L273.86 547.92 L274.92 545.82 L275.96 543.71 L276.99 541.60 L278.01 539.48 L279.02 537.36 L280.02 535.23 L281.00 533.10 L281.97 530.96 L282.93 528.81 L283.89 526.64 L284.83 524.47 L285.75 522.31 L286.65 520.17 L287.54 518.06 L288.40 516.00 L289.15 514.17 L289.88 512.33 L290.59 510.51 L291.28 508.72 L291.97 506.96 L292.65 505.24 L293.32 503.59 L294.00 502.00 L294.55 500.78 L295.09 499.63 L295.62 498.53 L296.15 497.45 L296.68 496.38 L297.21 495.30 L297.75 494.18 L298.30 493.00 L298.94 491.57 L299.58 490.07 L300.23 488.53 L300.88 486.97 L301.53 485.41 L302.19 483.88 L302.85 482.40 L303.50 481.00 L304.06 479.83 L304.63 478.66 L305.19 477.51 L305.76 476.39 L306.33 475.32 L306.89 474.30 L307.45 473.36 L308.00 472.50 L308.37 471.95 L308.73 471.43 L309.07 470.94 L309.42 470.48 L309.78 470.06 L310.16 469.67 L310.56 469.31 L311.00 469.00 L311.47 468.73 L311.97 468.48 L312.50 468.27 L313.05 468.10 L313.60 467.96 L314.15 467.86 L314.69 467.81 L315.20 467.80 L315.65 467.83 L316.09 467.91 L316.52 468.02 L316.95 468.16 L317.37 468.33 L317.79 468.53 L318.20 468.76 L318.60 469.00 L319.05 469.32 L319.49 469.67 L319.92 470.06 L320.34 470.48 L320.75 470.94 L321.16 471.43 L321.58 471.95 L322.00 472.50 L322.61 473.36 L323.22 474.33 L323.85 475.37 L324.46 476.48 L325.07 477.61 L325.67 478.76 L326.25 479.90 L326.80 481.00 L327.31 482.05 L327.79 483.11 L328.25 484.17 L328.70 485.24 L329.15 486.30 L329.59 487.37 L330.04 488.44 L330.50 489.50 L330.96 490.54 L331.42 491.55 L331.87 492.55 L332.33 493.56 L332.80 494.59 L333.28 495.66 L333.78 496.79 L334.30 498.00 L335.10 499.89 L335.94 501.94 L336.83 504.11 L337.75 506.37 L338.68 508.68 L339.63 510.99 L340.57 513.28 L341.50 515.50 L342.42 517.66 L343.35 519.82 L344.28 521.97 L345.22 524.12 L346.16 526.27 L347.10 528.42 L348.05 530.56 L349.00 532.70 L349.93 534.83 L350.85 536.95 L351.76 539.07 L352.67 541.18 L353.61 543.30 L354.59 545.42 L355.61 547.55 L356.70 549.70 L357.98 552.08 L359.35 554.49 L360.79 556.93 L362.26 559.37 L363.75 561.79 L365.24 564.18 L366.70 566.52 L368.10 568.80 L369.31 570.78 L370.49 572.72 L371.66 574.62 L372.82 576.50 L373.97 578.35 L375.13 580.19 L376.31 582.00 L377.50 583.80 L378.65 585.49 L379.82 587.16 L380.99 588.80 L382.17 590.42 L383.36 592.04 L384.54 593.65 L385.72 595.27 L386.90 596.90 L388.07 598.55 L389.24 600.20 L390.41 601.87 L391.58 603.53 L392.75 605.18 L393.92 606.81 L395.11 608.42 L396.30 610.00 L397.45 611.46 L398.61 612.89 L399.77 614.29 L400.94 615.68 L402.11 617.06 L403.28 618.45 L404.44 619.86 L405.60 621.30 L406.79 622.83 L408.00 624.39 L409.20 625.97 L410.40 627.56 L411.59 629.15 L412.75 630.71 L413.89 632.23 L415.00 633.70 L415.91 634.92 L416.76 636.10 L417.59 637.25 L418.41 638.38 L419.23 639.51 L420.09 640.65 L421.01 641.81 L422.00 643.00 L423.31 644.50 L424.71 646.03 L426.17 647.58 L427.69 649.16 L429.25 650.74 L430.83 652.33 L432.42 653.92 L434.00 655.50 L435.69 657.18 L437.40 658.87 L439.15 660.56 L440.91 662.26 L442.68 663.95 L444.46 665.65 L446.23 667.33 L448.00 669.00 L449.74 670.65 L451.49 672.30 L453.23 673.94 L454.98 675.57 L456.73 677.20 L458.48 678.81 L460.24 680.42 L462.00 682.00 L463.73 683.54 L465.46 685.07 L467.20 686.58 L468.93 688.09 L470.68 689.58 L472.44 691.06 L474.21 692.54 L476.00 694.00 L477.84 695.47 L479.69 696.93 L481.57 698.37 L483.45 699.80 L485.34 701.23 L487.24 702.65 L489.12 704.08 L491.00 705.50 L492.85 706.91 L494.69 708.33 L496.53 709.74 L498.36 711.14 L500.21 712.55 L502.06 713.94 L503.92 715.33 L505.80 716.70 L507.78 718.12 L509.87 719.60 L512.01 721.09 L514.13 722.56 L516.19 723.97 L518.13 725.29 L519.88 726.48 L521.40 727.50 L522.10 727.97 L522.73 728.38 L523.31 728.76 L523.86 729.10 L524.38 729.44 L524.90 729.77 L525.44 730.12 L526.00 730.50 L526.69 730.97 L527.47 731.51 L528.30 732.09 L529.12 732.67 L529.85 733.18 L530.45 733.61 L530.85 733.89 L531.00 734.00" stroke="#ff2020" stroke-dasharray="9 10" stroke-dashoffset="12.3"/>
<path d="M117.50 733.00 L117.53 732.89 L117.61 732.60 L117.73 732.16 L117.91 731.61 L118.12 730.98 L118.38 730.31 L118.67 729.64 L119.00 729.00 L119.82 727.67 L120.90 726.12 L122.17 724.42 L123.57 722.64 L125.04 720.83 L126.51 719.07 L127.92 717.40 L129.20 715.90 L130.17 714.79 L131.13 713.71 L132.10 712.67 L133.05 711.66 L133.97 710.70 L134.86 709.80 L135.71 708.96 L136.50 708.20 L136.98 707.76 L137.41 707.37 L137.82 707.01 L138.22 706.68 L138.62 706.35 L139.04 706.01 L139.49 705.63 L140.00 705.20 L140.91 704.42 L141.92 703.55 L143.01 702.62 L144.15 701.64 L145.32 700.63 L146.50 699.63 L147.67 698.64 L148.80 697.70 L149.88 696.81 L150.97 695.93 L152.06 695.05 L153.15 694.19 L154.23 693.32 L155.32 692.45 L156.41 691.58 L157.50 690.70 L158.60 689.81 L159.71 688.93 L160.81 688.05 L161.92 687.16 L163.02 686.27 L164.12 685.36 L165.22 684.44 L166.30 683.50 L167.41 682.51 L168.51 681.51 L169.61 680.50 L170.70 679.47 L171.79 678.42 L172.87 677.37 L173.94 676.29 L175.00 675.20 L176.10 674.04 L177.20 672.83 L178.30 671.60 L179.39 670.35 L180.47 669.11 L181.51 667.90 L182.53 666.72 L183.50 665.60 L184.25 664.74 L184.97 663.91 L185.65 663.11 L186.32 662.33 L186.99 661.55 L187.67 660.76 L188.37 659.95 L189.10 659.10 L190.00 658.07 L190.94 656.99 L191.91 655.89 L192.90 654.77 L193.88 653.65 L194.85 652.54 L195.80 651.45 L196.70 650.40 L197.47 649.49 L198.21 648.59 L198.93 647.71 L199.64 646.83 L200.35 645.97 L201.06 645.11 L201.77 644.25 L202.50 643.40 L203.23 642.57 L203.97 641.76 L204.71 640.95 L205.45 640.15 L206.19 639.35 L206.93 638.54 L207.67 637.73 L208.40 636.90 L209.13 636.04 L209.86 635.17 L210.59 634.29 L211.31 633.41 L212.03 632.53 L212.75 631.64 L213.47 630.77 L214.20 629.90 L214.90 629.07 L215.59 628.28 L216.26 627.51 L216.94 626.74 L217.64 625.94 L218.37 625.09 L219.15 624.19 L220.00 623.20 L221.54 621.39 L223.32 619.30 L225.24 617.03 L227.23 614.66 L229.23 612.28 L231.14 609.99 L232.89 607.87 L234.40 606.00 L235.23 604.95 L235.99 603.99 L236.70 603.08 L237.36 602.21 L238.01 601.36 L238.65 600.51 L239.31 599.63 L240.00 598.70 L240.78 597.66 L241.57 596.60 L242.36 595.54 L243.16 594.45 L243.95 593.36 L244.74 592.25 L245.53 591.13 L246.30 590.00 L247.09 588.79 L247.88 587.56 L248.65 586.32 L249.42 585.06 L250.19 583.79 L250.95 582.52 L251.72 581.26 L252.50 580.00 L253.29 578.76 L254.08 577.52 L254.88 576.30 L255.67 575.07 L256.47 573.83 L257.26 572.58 L258.03 571.30 L258.80 570.00 L259.60 568.58 L260.39 567.13 L261.17 565.66 L261.94 564.17 L262.71 562.67 L263.47 561.15 L264.24 559.63 L265.00 558.10 L265.80 556.50 L266.60 554.90 L267.39 553.29 L268.19 551.66 L268.98 550.02 L269.76 548.37 L270.53 546.69 L271.30 545.00 L272.10 543.19 L272.89 541.35 L273.66 539.49 L274.44 537.61 L275.20 535.72 L275.97 533.82 L276.73 531.91 L277.50 530.00 L278.30 528.00 L279.10 525.97 L279.91 523.92 L280.71 521.87 L281.51 519.81 L282.29 517.78 L283.06 515.77 L283.80 513.80 L284.45 512.03 L285.06 510.29 L285.65 508.57 L286.23 506.86 L286.82 505.16 L287.44 503.46 L288.09 501.74 L288.80 500.00 L289.65 498.05 L290.57 496.03 L291.55 493.96 L292.55 491.91 L293.56 489.90 L294.53 487.98 L295.46 486.20 L296.30 484.60 L296.81 483.65 L297.29 482.76 L297.74 481.93 L298.19 481.14 L298.63 480.38 L299.07 479.65 L299.53 478.92 L300.00 478.20 L300.44 477.56 L300.87 476.94 L301.32 476.34 L301.77 475.76 L302.22 475.18 L302.68 474.61 L303.14 474.05 L303.60 473.50 L304.05 472.96 L304.50 472.42 L304.95 471.87 L305.40 471.34 L305.86 470.83 L306.33 470.34 L306.81 469.90 L307.30 469.50 L307.73 469.19 L308.16 468.91 L308.60 468.66 L309.04 468.42 L309.49 468.21 L309.95 468.02 L310.42 467.85 L310.90 467.70 L311.42 467.56 L311.96 467.44 L312.50 467.35 L313.06 467.28 L313.62 467.23 L314.19 467.20 L314.75 467.19 L315.30 467.20 L315.85 467.23 L316.41 467.27 L316.96 467.34 L317.52 467.42 L318.07 467.53 L318.62 467.66 L319.16 467.82 L319.70 468.00 L320.27 468.23 L320.82 468.49 L321.37 468.78 L321.92 469.10 L322.47 469.45 L323.01 469.81 L323.55 470.20 L324.10 470.60 L324.75 471.10 L325.41 471.63 L326.07 472.20 L326.74 472.79 L327.39 473.41 L328.02 474.03 L328.63 474.67 L329.20 475.30 L329.71 475.90 L330.19 476.52 L330.64 477.14 L331.08 477.77 L331.51 478.42 L331.94 479.07 L332.36 479.73 L332.80 480.40 L333.27 481.12 L333.75 481.85 L334.22 482.59 L334.69 483.34 L335.16 484.10 L335.61 484.88 L336.06 485.68 L336.50 486.50 L336.97 487.43 L337.41 488.40 L337.85 489.38 L338.27 490.39 L338.70 491.41 L339.12 492.44 L339.55 493.47 L340.00 494.50 L340.49 495.60 L340.98 496.71 L341.48 497.84 L341.98 498.97 L342.49 500.10 L342.99 501.24 L343.50 502.37 L344.00 503.50 L344.50 504.62 L345.00 505.75 L345.50 506.88 L346.00 508.00 L346.50 509.12 L347.00 510.25 L347.50 511.38 L348.00 512.50 L348.50 513.62 L349.00 514.75 L349.50 515.88 L350.00 517.00 L350.50 518.12 L351.00 519.25 L351.50 520.38 L352.00 521.50 L352.50 522.62 L353.00 523.75 L353.50 524.88 L354.00 526.00 L354.50 527.12 L355.00 528.25 L355.50 529.38 L356.00 530.50 L356.50 531.62 L357.00 532.74 L357.50 533.86 L358.01 534.98 L358.51 536.10 L359.01 537.23 L359.50 538.36 L360.00 539.50 L360.50 540.67 L361.00 541.85 L361.50 543.04 L362.00 544.23 L362.50 545.43 L363.00 546.62 L363.50 547.81 L364.00 549.00 L364.51 550.19 L365.01 551.37 L365.52 552.55 L366.03 553.74 L366.55 554.92 L367.06 556.11 L367.58 557.30 L368.10 558.50 L368.64 559.74 L369.17 560.99 L369.71 562.25 L370.25 563.51 L370.80 564.77 L371.35 566.02 L371.92 567.27 L372.50 568.50 L373.10 569.73 L373.71 570.96 L374.33 572.19 L374.96 573.41 L375.60 574.62 L376.23 575.81 L376.87 576.97 L377.50 578.10 L378.06 579.09 L378.61 580.06 L379.15 581.01 L379.70 581.95 L380.26 582.87 L380.82 583.76 L381.40 584.64 L382.00 585.50 L382.58 586.28 L383.18 587.04 L383.79 587.79 L384.41 588.52 L385.03 589.23 L385.66 589.93 L386.28 590.62 L386.90 591.30 L387.47 591.92 L388.04 592.53 L388.61 593.12 L389.19 593.70 L389.76 594.28 L390.34 594.85 L390.92 595.42 L391.50 596.00 L392.09 596.58 L392.70 597.16 L393.31 597.73 L393.92 598.31 L394.52 598.88 L395.13 599.45 L395.72 600.03 L396.30 600.60 L396.84 601.15 L397.37 601.70 L397.88 602.24 L398.39 602.79 L398.91 603.33 L399.42 603.89 L399.95 604.44 L400.50 605.00 L401.11 605.61 L401.75 606.22 L402.40 606.83 L403.06 607.45 L403.71 608.07 L404.36 608.71 L404.99 609.35 L405.60 610.00 L406.18 610.66 L406.74 611.34 L407.28 612.02 L407.82 612.71 L408.35 613.41 L408.89 614.11 L409.44 614.81 L410.00 615.50 L410.60 616.22 L411.22 616.95 L411.84 617.67 L412.47 618.40 L413.10 619.13 L413.74 619.85 L414.37 620.58 L415.00 621.30 L415.63 622.01 L416.26 622.70 L416.89 623.38 L417.53 624.07 L418.16 624.76 L418.78 625.48 L419.40 626.22 L420.00 627.00 L420.65 627.92 L421.29 628.89 L421.91 629.90 L422.52 630.93 L423.13 631.97 L423.75 633.01 L424.37 634.02 L425.00 635.00 L425.61 635.91 L426.23 636.80 L426.85 637.69 L427.48 638.56 L428.11 639.43 L428.74 640.29 L429.37 641.15 L430.00 642.00 L430.62 642.83 L431.24 643.66 L431.86 644.48 L432.48 645.29 L433.11 646.10 L433.74 646.91 L434.37 647.71 L435.00 648.50 L435.62 649.27 L436.24 650.04 L436.85 650.81 L437.48 651.57 L438.10 652.32 L438.73 653.06 L439.36 653.79 L440.00 654.50 L440.61 655.16 L441.23 655.82 L441.85 656.46 L442.47 657.09 L443.10 657.72 L443.73 658.32 L444.36 658.92 L445.00 659.50 L445.61 660.04 L446.23 660.56 L446.85 661.07 L447.48 661.57 L448.11 662.06 L448.74 662.55 L449.37 663.03 L450.00 663.50 L450.62 663.96 L451.24 664.40 L451.87 664.84 L452.49 665.28 L453.12 665.71 L453.75 666.13 L454.37 666.57 L455.00 667.00 L455.63 667.43 L456.25 667.87 L456.88 668.29 L457.51 668.72 L458.13 669.16 L458.76 669.60 L459.38 670.04 L460.00 670.50 L460.63 670.98 L461.26 671.46 L461.89 671.95 L462.52 672.45 L463.14 672.95 L463.76 673.46 L464.38 673.98 L465.00 674.50 L465.63 675.05 L466.27 675.60 L466.89 676.16 L467.52 676.72 L468.15 677.30 L468.77 677.89 L469.39 678.49 L470.00 679.10 L470.65 679.77 L471.29 680.47 L471.93 681.18 L472.56 681.90 L473.19 682.63 L473.83 683.36 L474.46 684.09 L475.10 684.80 L475.74 685.50 L476.37 686.21 L477.01 686.91 L477.65 687.60 L478.29 688.30 L478.92 689.00 L479.56 689.70 L480.20 690.40 L480.84 691.10 L481.48 691.80 L482.11 692.50 L482.75 693.20 L483.39 693.89 L484.03 694.59 L484.66 695.30 L485.30 696.00 L485.94 696.71 L486.57 697.43 L487.21 698.15 L487.84 698.87 L488.48 699.59 L489.11 700.31 L489.76 701.01 L490.40 701.70 L491.03 702.36 L491.66 703.01 L492.30 703.66 L492.93 704.30 L493.57 704.93 L494.21 705.56 L494.86 706.18 L495.50 706.80 L496.13 707.40 L496.76 708.00 L497.39 708.59 L498.02 709.18 L498.66 709.75 L499.30 710.32 L499.95 710.87 L500.60 711.40 L501.24 711.89 L501.88 712.37 L502.52 712.83 L503.18 713.28 L503.83 713.72 L504.49 714.15 L505.14 714.58 L505.80 715.00 L506.44 715.39 L507.07 715.77 L507.71 716.14 L508.35 716.50 L508.99 716.86 L509.63 717.23 L510.27 717.60 L510.90 718.00 L511.54 718.42 L512.18 718.86 L512.82 719.31 L513.46 719.77 L514.09 720.23 L514.73 720.69 L515.36 721.15 L516.00 721.60 L516.64 722.05 L517.28 722.49 L517.93 722.94 L518.57 723.38 L519.22 723.83 L519.85 724.28 L520.48 724.74 L521.10 725.20 L521.70 725.66 L522.28 726.13 L522.86 726.59 L523.44 727.07 L524.01 727.55 L524.58 728.03 L525.14 728.51 L525.70 729.00 L526.31 729.54 L526.99 730.17 L527.71 730.83 L528.40 731.49 L529.03 732.08 L529.54 732.56 L529.88 732.88 L530.00 733.00" stroke="#1a1078"/>
</g>
<rect x="413.30" y="422.90" width="177.70" height="109.50" fill="#fff"/>
<g fill="none" stroke="#262626" stroke-width="2.2">
<rect x="413.30" y="422.90" width="177.70" height="109.50"/>
<path d="M438.69 532.40 V529.80 M438.69 422.90 V425.50 M502.15 532.40 V529.80 M502.15 422.90 V425.50 M565.61 532.40 V529.80 M565.61 422.90 V425.50 M413.30 525.56 H415.90 M591.00 525.56 H588.40 M413.30 491.34 H415.90 M591.00 491.34 H588.40 M413.30 457.12 H415.90 M591.00 457.12 H588.40 "/>
</g>
<g clip-path="url(#cib)" fill="none" stroke-width="2.60">
<path d="M417.50 420.60 L417.54 420.67 L417.65 420.87 L417.82 421.17 L418.05 421.55 L418.31 421.99 L418.59 422.46 L418.89 422.94 L419.20 423.40 L419.87 424.37 L420.69 425.50 L421.61 426.76 L422.61 428.09 L423.65 429.46 L424.70 430.83 L425.73 432.16 L426.70 433.40 L427.57 434.50 L428.44 435.58 L429.30 436.64 L430.17 437.69 L431.03 438.73 L431.89 439.76 L432.75 440.79 L433.60 441.80 L434.41 442.75 L435.23 443.69 L436.05 444.61 L436.87 445.52 L437.68 446.44 L438.47 447.35 L439.25 448.27 L440.00 449.20 L440.69 450.09 L441.36 450.99 L442.02 451.89 L442.66 452.79 L443.29 453.69 L443.92 454.59 L444.56 455.50 L445.20 456.40 L445.85 457.31 L446.50 458.22 L447.15 459.12 L447.81 460.03 L448.46 460.95 L449.11 461.86 L449.75 462.78 L450.40 463.70 L451.05 464.64 L451.70 465.60 L452.35 466.56 L452.99 467.52 L453.64 468.48 L454.29 469.43 L454.94 470.37 L455.60 471.30 L456.24 472.19 L456.88 473.08 L457.52 473.96 L458.17 474.83 L458.82 475.70 L459.47 476.55 L460.13 477.38 L460.80 478.20 L461.44 478.95 L462.09 479.66 L462.74 480.36 L463.40 481.05 L464.06 481.74 L464.71 482.44 L465.36 483.16 L466.00 483.90 L466.66 484.71 L467.32 485.53 L467.98 486.37 L468.63 487.23 L469.28 488.09 L469.92 488.96 L470.56 489.83 L471.20 490.70 L471.85 491.59 L472.49 492.49 L473.13 493.38 L473.77 494.29 L474.41 495.20 L475.04 496.12 L475.67 497.06 L476.30 498.00 L476.96 499.01 L477.61 500.03 L478.26 501.06 L478.91 502.11 L479.56 503.16 L480.20 504.21 L480.85 505.26 L481.50 506.30 L482.15 507.35 L482.79 508.41 L483.43 509.48 L484.07 510.55 L484.71 511.60 L485.36 512.63 L486.02 513.64 L486.70 514.60 L487.33 515.45 L487.97 516.30 L488.62 517.13 L489.27 517.94 L489.93 518.72 L490.59 519.46 L491.25 520.16 L491.90 520.80 L492.42 521.28 L492.94 521.72 L493.45 522.14 L493.97 522.54 L494.49 522.91 L495.02 523.26 L495.55 523.59 L496.10 523.90 L496.63 524.18 L497.16 524.46 L497.70 524.72 L498.25 524.95 L498.80 525.17 L499.36 525.35 L499.93 525.49 L500.50 525.60 L501.10 525.67 L501.72 525.71 L502.35 525.72 L502.98 525.69 L503.62 525.62 L504.25 525.52 L504.88 525.38 L505.50 525.20 L506.20 524.94 L506.90 524.61 L507.60 524.22 L508.29 523.79 L508.98 523.33 L509.66 522.83 L510.34 522.32 L511.00 521.80 L511.72 521.21 L512.43 520.60 L513.13 519.95 L513.82 519.27 L514.51 518.57 L515.18 517.84 L515.84 517.08 L516.50 516.30 L517.22 515.37 L517.93 514.38 L518.62 513.35 L519.30 512.28 L519.97 511.20 L520.64 510.12 L521.32 509.05 L522.00 508.00 L522.69 506.97 L523.37 505.94 L524.05 504.90 L524.74 503.87 L525.43 502.84 L526.11 501.82 L526.81 500.81 L527.50 499.80 L528.17 498.81 L528.84 497.80 L529.51 496.79 L530.18 495.79 L530.86 494.81 L531.55 493.88 L532.26 493.00 L533.00 492.20 L533.65 491.59 L534.33 491.03 L535.02 490.52 L535.71 490.05 L536.42 489.58 L537.12 489.11 L537.82 488.62 L538.50 488.10 L539.20 487.54 L539.90 486.99 L540.61 486.44 L541.31 485.87 L542.00 485.28 L542.68 484.66 L543.35 484.01 L544.00 483.30 L544.74 482.41 L545.45 481.45 L546.15 480.43 L546.83 479.38 L547.50 478.30 L548.17 477.20 L548.83 476.09 L549.50 475.00 L550.20 473.84 L550.89 472.64 L551.57 471.43 L552.25 470.20 L552.93 468.97 L553.61 467.76 L554.30 466.56 L555.00 465.40 L555.67 464.31 L556.34 463.22 L557.01 462.13 L557.68 461.06 L558.37 460.02 L559.06 459.00 L559.77 458.03 L560.50 457.10 L561.16 456.33 L561.83 455.60 L562.52 454.91 L563.21 454.24 L563.91 453.59 L564.61 452.93 L565.31 452.28 L566.00 451.60 L566.69 450.93 L567.39 450.28 L568.10 449.64 L568.80 449.00 L569.50 448.33 L570.18 447.64 L570.85 446.90 L571.50 446.10 L572.24 445.06 L572.96 443.93 L573.65 442.74 L574.32 441.51 L574.99 440.25 L575.65 438.98 L576.32 437.72 L577.00 436.50 L577.70 435.27 L578.41 434.00 L579.13 432.72 L579.85 431.44 L580.55 430.19 L581.24 429.01 L581.89 427.90 L582.50 426.90 L582.89 426.29 L583.27 425.72 L583.63 425.19 L583.99 424.68 L584.33 424.19 L584.67 423.72 L584.99 423.26 L585.30 422.80 L585.56 422.41 L585.84 421.99 L586.12 421.56 L586.39 421.14 L586.63 420.77 L586.82 420.47 L586.95 420.27 L587.00 420.20" stroke="#1a1078"/>
<path d="M417.50 419.80 L417.55 419.87 L417.69 420.05 L417.90 420.34 L418.17 420.71 L418.49 421.14 L418.85 421.61 L419.22 422.10 L419.60 422.60 L420.69 424.01 L422.05 425.78 L423.63 427.81 L425.36 430.03 L427.18 432.36 L429.02 434.72 L430.81 437.03 L432.50 439.20 L434.12 441.29 L435.75 443.39 L437.38 445.49 L439.01 447.59 L440.63 449.69 L442.24 451.78 L443.83 453.85 L445.40 455.90 L446.86 457.82 L448.30 459.73 L449.73 461.62 L451.14 463.51 L452.55 465.38 L453.96 467.26 L455.37 469.13 L456.80 471.00 L458.23 472.86 L459.67 474.70 L461.11 476.54 L462.56 478.38 L464.00 480.22 L465.44 482.07 L466.87 483.92 L468.30 485.80 L469.74 487.72 L471.18 489.67 L472.61 491.62 L474.03 493.58 L475.46 495.55 L476.88 497.51 L478.29 499.46 L479.70 501.40 L481.10 503.34 L482.53 505.36 L483.97 507.40 L485.40 509.42 L486.80 511.37 L488.15 513.22 L489.42 514.91 L490.60 516.40 L491.29 517.22 L491.94 517.98 L492.57 518.69 L493.18 519.35 L493.77 519.97 L494.35 520.56 L494.93 521.14 L495.50 521.70 L495.95 522.15 L496.40 522.59 L496.83 523.01 L497.26 523.42 L497.68 523.80 L498.11 524.16 L498.55 524.50 L499.00 524.80 L499.40 525.05 L499.81 525.31 L500.23 525.55 L500.64 525.76 L501.06 525.95 L501.48 526.09 L501.89 526.18 L502.30 526.20 L502.71 526.15 L503.11 526.05 L503.51 525.89 L503.91 525.68 L504.31 525.44 L504.71 525.18 L505.10 524.89 L505.50 524.60 L506.00 524.19 L506.50 523.73 L507.00 523.23 L507.50 522.69 L507.99 522.12 L508.49 521.53 L508.99 520.92 L509.50 520.30 L510.10 519.54 L510.69 518.76 L511.27 517.95 L511.86 517.10 L512.47 516.23 L513.11 515.32 L513.78 514.38 L514.50 513.40 L515.60 511.95 L516.76 510.43 L518.00 508.84 L519.29 507.19 L520.64 505.47 L522.04 503.68 L523.50 501.82 L525.00 499.90 L527.19 497.09 L529.55 494.07 L532.03 490.89 L534.60 487.61 L537.22 484.26 L539.85 480.89 L542.46 477.56 L545.00 474.30 L547.50 471.10 L550.00 467.90 L552.49 464.71 L554.99 461.51 L557.49 458.31 L559.99 455.11 L562.49 451.91 L565.00 448.70 L567.67 445.29 L570.56 441.61 L573.53 437.82 L576.47 434.08 L579.23 430.55 L581.71 427.39 L583.78 424.75 L585.30 422.80 L585.68 422.31 L586.04 421.84 L586.38 421.40 L586.68 421.01 L586.94 420.68 L587.13 420.42 L587.26 420.26 L587.30 420.20" stroke="#ff2020" stroke-dasharray="9 10"/>
</g>
<g fill="#111111" stroke="#111111" stroke-width="0.35" font-family="Liberation Serif, serif">
<text x="8.20" y="22.60" text-anchor="start" font-size="27.50" font-weight="bold">a</text>
<text x="6.00" y="433.80" text-anchor="start" font-size="28.00" font-weight="bold">b</text>
<text transform="translate(78.20 21.00) scale(1 1.070)" text-anchor="end" font-size="28.00" font-weight="normal">5</text>
<text transform="translate(78.20 63.60) scale(1 1.070)" text-anchor="end" font-size="28.00" font-weight="normal">0</text>
<text transform="translate(78.20 106.20) scale(1 1.070)" text-anchor="end" font-size="28.00" font-weight="normal">-5</text>
<text transform="translate(78.20 150.20) scale(1 1.070)" text-anchor="end" font-size="28.00" font-weight="normal">-10</text>
<text transform="translate(78.20 196.50) scale(1 1.070)" text-anchor="end" font-size="28.00" font-weight="normal">-15</text>
<text transform="translate(78.20 241.20) scale(1 1.070)" text-anchor="end" font-size="28.00" font-weight="normal">-20</text>
<text transform="translate(78.20 285.00) scale(1 1.070)" text-anchor="end" font-size="28.00" font-weight="normal">-25</text>
<text transform="translate(78.20 326.00) scale(1 1.070)" text-anchor="end" font-size="28.00" font-weight="normal">-30</text>
<text transform="translate(96.60 350.10) scale(1 1.070)" text-anchor="end" font-size="28.00" font-weight="normal">-6</text>
<text transform="translate(168.94 350.10) scale(1 1.070)" text-anchor="end" font-size="28.00" font-weight="normal">-4</text>
<text transform="translate(240.69 350.10) scale(1 1.070)" text-anchor="end" font-size="28.00" font-weight="normal">-2</text>
<text transform="translate(306.63 350.10) scale(1 1.070)" text-anchor="middle" font-size="28.00" font-weight="normal">0</text>
<text transform="translate(379.77 350.10) scale(1 1.070)" text-anchor="middle" font-size="28.00" font-weight="normal">2</text>
<text transform="translate(451.11 350.10) scale(1 1.070)" text-anchor="middle" font-size="28.00" font-weight="normal">4</text>
<text transform="translate(522.86 350.10) scale(1 1.070)" text-anchor="middle" font-size="28.00" font-weight="normal">6</text>
<text transform="translate(596.20 350.10) scale(1 1.070)" text-anchor="middle" font-size="28.00" font-weight="normal">8</text>
<text transform="translate(607.00 20.60) scale(1 1.070)" text-anchor="start" font-size="28.00" font-weight="normal">0.2</text>
<text transform="translate(607.00 81.20) scale(1 1.070)" text-anchor="start" font-size="28.00" font-weight="normal">0.1</text>
<text transform="translate(607.00 144.30) scale(1 1.070)" text-anchor="start" font-size="28.00" font-weight="normal">0</text>
<text transform="translate(602.00 203.50) scale(1 1.070)" text-anchor="start" font-size="28.00" font-weight="normal">-0.1</text>
<text transform="translate(602.00 265.00) scale(1 1.070)" text-anchor="start" font-size="28.00" font-weight="normal">-0.2</text>
<text transform="translate(602.00 324.80) scale(1 1.070)" text-anchor="start" font-size="28.00" font-weight="normal">-0.3</text>
<text x="334.50" y="383.90" text-anchor="middle" font-size="28.40" font-weight="normal">Angular frequency (rad/ps)</text>
<text transform="translate(21.00 170.50) rotate(-90)" text-anchor="middle" font-size="28.40">Intensity (dB)</text>
<text transform="translate(677.30 170.30) rotate(-90)" text-anchor="middle" font-size="28.40">Linear dispersion (1/m)</text>
<text transform="translate(78.20 432.00) scale(1 1.070)" text-anchor="end" font-size="28.00" font-weight="normal">5</text>
<text transform="translate(78.20 475.20) scale(1 1.070)" text-anchor="end" font-size="28.00" font-weight="normal">0</text>
<text transform="translate(78.20 526.60) scale(1 1.070)" text-anchor="end" font-size="28.00" font-weight="normal">-5</text>
<text transform="translate(78.20 577.50) scale(1 1.070)" text-anchor="end" font-size="28.00" font-weight="normal">-10</text>
<text transform="translate(78.20 628.00) scale(1 1.070)" text-anchor="end" font-size="28.00" font-weight="normal">-15</text>
<text transform="translate(78.20 678.50) scale(1 1.070)" text-anchor="end" font-size="28.00" font-weight="normal">-20</text>
<text transform="translate(78.20 729.00) scale(1 1.070)" text-anchor="end" font-size="28.00" font-weight="normal">-25</text>
<text transform="translate(88.40 756.60) scale(1 1.070)" text-anchor="end" font-size="28.00" font-weight="normal">-8</text>
<text transform="translate(151.72 756.60) scale(1 1.070)" text-anchor="end" font-size="28.00" font-weight="normal">-6</text>
<text transform="translate(207.44 756.60) scale(1 1.070)" text-anchor="end" font-size="28.00" font-weight="normal">-4</text>
<text transform="translate(265.87 756.60) scale(1 1.070)" text-anchor="end" font-size="28.00" font-weight="normal">-2</text>
<text transform="translate(314.49 756.60) scale(1 1.070)" text-anchor="middle" font-size="28.00" font-weight="normal">0</text>
<text transform="translate(372.71 756.60) scale(1 1.070)" text-anchor="middle" font-size="28.00" font-weight="normal">2</text>
<text transform="translate(425.23 756.60) scale(1 1.070)" text-anchor="middle" font-size="28.00" font-weight="normal">4</text>
<text transform="translate(483.36 756.60) scale(1 1.070)" text-anchor="middle" font-size="28.00" font-weight="normal">6</text>
<text transform="translate(541.98 756.60) scale(1 1.070)" text-anchor="middle" font-size="28.00" font-weight="normal">8</text>
<text transform="translate(594.10 756.60) scale(1 1.070)" text-anchor="middle" font-size="28.00" font-weight="normal">10</text>
<text x="334.60" y="792.80" text-anchor="middle" font-size="28.40" font-weight="normal">Time (ps)</text>
<text transform="translate(21.00 586.90) rotate(-90)" text-anchor="middle" font-size="28.40">Intensity (dB)</text>
<text transform="translate(407.80 28.00) scale(1.130 1.080)" text-anchor="end" font-size="18.80">5</text>
<text transform="translate(407.80 75.80) scale(1.130 1.080)" text-anchor="end" font-size="18.80">-10</text>
<text transform="translate(407.80 128.40) scale(1.130 1.080)" text-anchor="end" font-size="18.80">-25</text>
<text transform="translate(429.86 146.00) scale(1.130 1.080)" text-anchor="end" font-size="18.80">-6</text>
<text transform="translate(502.95 146.00) scale(1.130 1.080)" text-anchor="middle" font-size="18.80">0</text>
<text transform="translate(576.54 146.00) scale(1.130 1.080)" text-anchor="middle" font-size="18.80">6</text>
<text transform="translate(501.80 164.00) scale(1.000 1.000)" text-anchor="middle" font-size="20.80">&#969; (rad/ps)</text>
<text transform="translate(371.00 65.30) rotate(-90)" text-anchor="middle" font-size="20.80">Int. (dB)</text>
<text transform="translate(407.00 436.00) scale(1.130 1.080)" text-anchor="end" font-size="18.80">4</text>
<text transform="translate(407.00 464.30) scale(1.130 1.080)" text-anchor="end" font-size="18.80">3</text>
<text transform="translate(407.00 497.60) scale(1.130 1.080)" text-anchor="end" font-size="18.80">2</text>
<text transform="translate(407.00 532.60) scale(1.130 1.080)" text-anchor="end" font-size="18.80">1</text>
<text transform="translate(444.19 555.00) scale(1.130 1.080)" text-anchor="end" font-size="18.80">-5</text>
<text transform="translate(502.15 555.00) scale(1.130 1.080)" text-anchor="middle" font-size="18.80">0</text>
<text transform="translate(565.61 555.00) scale(1.130 1.080)" text-anchor="middle" font-size="18.80">5</text>
<text transform="translate(499.80 574.30) scale(1.000 1.000)" text-anchor="middle" font-size="20.80">Time (ps)</text>
<text transform="translate(383.5 522.8) rotate(-90)" font-size="20.8">u(t)</text>
<text transform="translate(368.8 494.0) rotate(-90)" font-size="13">-1/2</text>
<text transform="translate(383.5 472.0) rotate(-90)" font-size="20.8">(a.u.)</text>
</g>
</svg>
</body></html>
